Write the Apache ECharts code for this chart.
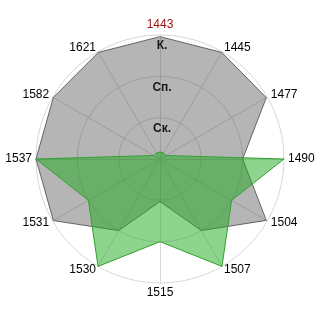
<!DOCTYPE html>
<html><head><meta charset="utf-8">
<script src="https://cdn.jsdelivr.net/npm/echarts@6/dist/echarts.min.js"></script>
<style>html,body{margin:0;padding:0;background:#fff}#c{width:320px;height:320px}</style>
</head><body><div id="c"></div>
<script>
// listed counter-clockwise from the top (ECharts radar drawing order)
const indicators = ['1443','1621','1582','1537','1531','1530','1515','1507','1504','1490','1477','1445'];
const levelLabels = ['', 'Ск.', 'Сп.', 'К.'];
const maxLevel = 3;
const graySeries = [2.96, 2.98, 2.98, 3, 2.98, 2, 1.03, 2, 2.97, 2, 2.97, 2.98];
const greenSeries = [0.17, 0.17, 0.17, 3, 2, 3, 2, 3, 2, 3, 0.17, 0.17];

const chart = echarts.init(document.getElementById('c'), null, {renderer: 'canvas'});
const indicatorOpts = indicators.map((n, i) => {
  const o = {name: n, min: 0, max: maxLevel};
  if (i === 0) {
    o.color = '#991111';
    o.axisLabel = {
      show: true,
      formatter: v => levelLabels[Math.round(v)] || '',
      fontWeight: 'bold', fontSize: 12, color: '#000',
      fontFamily: 'Liberation Sans',
      margin: 0, align: 'center', verticalAlign: 'top', padding: [5, 0, 0, 4]
    };
  }
  return o;
});
chart.setOption({
  backgroundColor: '#fff',
  animation: false,
  radar: {
    center: [160, 159],
    radius: 124,
    shape: 'circle',
    splitNumber: 3,
    nameGap: 4,
    axisName: {color: '#000', fontSize: 12, fontFamily: 'Liberation Sans'},
    axisLabel: {show: false},
    axisTick: {show: false},
    axisLine: {lineStyle: {color: '#d8d8d8', width: 1}},
    splitLine: {lineStyle: {color: '#d8d8d8', width: 1}},
    splitArea: {show: false},
    indicator: indicatorOpts
  },
  series: [{
    type: 'radar',
    symbol: 'none',
    data: [
      {value: graySeries, lineStyle: {color: '#707070', width: 1}, areaStyle: {color: 'rgba(60,60,60,0.38)', opacity: 1}},
      {value: greenSeries, lineStyle: {color: '#3a9e3a', width: 1}, areaStyle: {color: 'rgba(30,170,30,0.5)', opacity: 1}}
    ]
  }]
});
</script></body></html>
